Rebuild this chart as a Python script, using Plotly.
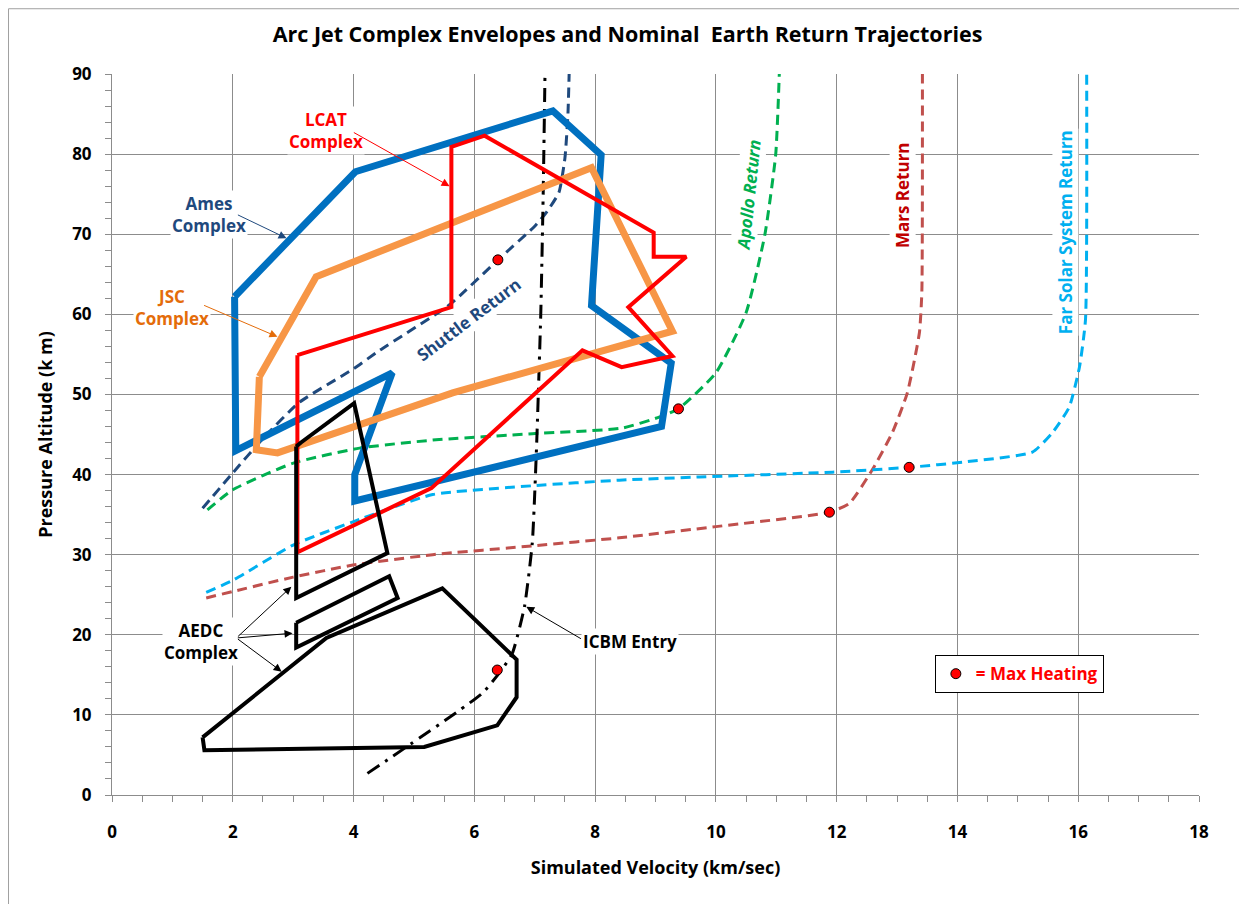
import plotly.graph_objects as go

# velocity (km/s) / pressure altitude (km)
ames_v = [2.03, 4.03, 7.30, 8.10, 7.94, 9.26, 9.10, 4.02, 4.02, 4.64, 2.05, 2.03]
ames_h = [62.2, 77.8, 85.4, 79.9, 61.1, 53.9, 46.0, 36.7, 40.0, 52.7, 43.0, 62.2]

jsc_v = [2.44, 3.38, 7.94, 9.28, 5.64, 2.74, 2.39, 2.44]
jsc_h = [52.2, 64.7, 78.3, 57.9, 50.2, 42.7, 43.1, 52.2]

lcat_v = [3.07, 5.62, 5.62, 6.17, 8.97, 8.97, 9.51, 8.55, 9.28, 8.44, 7.79, 5.29, 3.07, 3.07]
lcat_h = [54.9, 60.9, 80.9, 82.3, 70.2, 67.2, 67.2, 60.9, 54.8, 53.4, 55.5, 38.3, 30.3, 54.9]

aedc1_v = [3.05, 3.13, 4.01, 4.56, 3.05, 3.05]
aedc1_h = [43.5, 44.0, 48.9, 30.2, 24.6, 43.5]
aedc2_v = [3.05, 4.59, 4.73, 3.05, 3.05]
aedc2_h = [21.5, 27.3, 24.6, 18.4, 21.5]
aedc3_v = [1.50, 3.55, 5.47, 6.70, 6.70, 6.38, 5.17, 1.53, 1.50]
aedc3_h = [7.2, 19.6, 25.8, 16.9, 12.2, 8.7, 6.0, 5.6, 7.2]

icbm_v = [4.23, 6.13, 6.45, 6.63, 6.83, 6.96, 7.03, 7.10, 7.14, 7.17]
icbm_h = [2.7, 12.7, 15.6, 17.7, 23.5, 31.5, 43.4, 60.0, 75.0, 90.0]

shuttle_v = [1.50, 2.0, 2.5, 3.1, 4.0, 4.43, 5.59, 6.39, 7.0, 7.2, 7.4, 7.5, 7.55, 7.57]
shuttle_h = [35.8, 40.2, 44.5, 49.0, 53.2, 55.5, 61.2, 66.8, 71.0, 72.8, 75.2, 79.5, 85.0, 90.0]

apollo_v = [1.58, 2.0, 2.99, 4.1, 5.31, 6.96, 8.45, 9.07, 9.38, 10.0, 10.5, 10.81, 10.99, 11.05]
apollo_h = [35.6, 38.1, 41.4, 43.3, 44.3, 45.1, 45.8, 47.2, 48.2, 52.7, 60.2, 69.9, 79.9, 90.0]

mars_v = [1.56, 2.0, 3.0, 3.99, 5.31, 6.96, 8.40, 10.0, 11.88, 12.21, 12.59, 12.92, 13.17, 13.37, 13.41, 13.42]
mars_h = [24.6, 25.4, 27.2, 28.7, 30.0, 31.1, 32.1, 33.5, 35.3, 36.4, 40.6, 45.2, 50.2, 57.7, 62.7, 90.0]

far_v = [1.56, 2.0, 3.0, 3.99, 5.31, 6.96, 8.40, 9.73, 11.93, 13.2, 14.15, 15.24, 15.57, 15.85, 16.02, 16.12, 16.14]
far_h = [25.3, 26.8, 31.2, 34.1, 37.5, 38.6, 39.3, 39.7, 40.3, 40.9, 41.6, 42.8, 45.2, 48.4, 53.4, 59.3, 90.0]

# max heating points (shuttle, apollo, mars, far solar, icbm)
heat_v = [6.39, 9.38, 11.88, 13.2, 6.38]
heat_h = [66.8, 48.2, 35.3, 40.9, 15.6]

FONT = "Open Sans"
GRID = "#8c8c8c"

fig = go.Figure()


def poly(v, h, color, width):
    fig.add_trace(go.Scatter(x=v, y=h, mode="lines", showlegend=False, hoverinfo="skip",
                             line=dict(color=color, width=width)))


def traj(v, h, color, dash="10px,6px", width=3):
    fig.add_trace(go.Scatter(x=v, y=h, mode="lines", showlegend=False, hoverinfo="skip",
                             line=dict(color=color, width=width, dash=dash,
                                       shape="spline", smoothing=0.5)))


traj(shuttle_v, shuttle_h, "#1F497D")
traj(apollo_v, apollo_h, "#00B050")
traj(mars_v, mars_h, "#C0504D")
traj(far_v, far_h, "#00B0F0")
traj(icbm_v, icbm_h, "black", dash="14px,7px,3px,7px", width=3)

poly(ames_v, ames_h, "#0070C0", 7)
poly(jsc_v, jsc_h, "#F79646", 7)
poly(lcat_v, lcat_h, "#FF0000", 4)
poly(aedc1_v, aedc1_h, "black", 4)
poly(aedc2_v, aedc2_h, "black", 4)
poly(aedc3_v, aedc3_h, "black", 4)

fig.add_trace(go.Scatter(
    x=heat_v, y=heat_h, mode="markers", name="= Max Heating",
    marker=dict(color="#FF0000", size=10, line=dict(color="black", width=1)),
))

# text labels
labels = [
    ("LCAT<br>Complex", 3.55, 83.0, "#FF0000", 0),
    ("Ames<br>Complex", 1.61, 72.5, "#1F497D", 0),
    ("JSC<br>Complex", 1.00, 60.8, "#E46C0A", 0),
    ("AEDC<br>Complex", 1.48, 19.2, "black", 0),
    ("ICBM Entry", 8.57, 19.1, "black", 0),
    ("Shuttle Return", 5.90, 59.4, "#1F497D", -37),
    ("<i>Apollo Return</i>", 10.55, 74.9, "#00B050", -84),
    ("Mars Return", 13.10, 74.9, "#C00000", -90),
    ("Far Solar System Return", 15.79, 70.2, "#00B0F0", -90),
]
for txt, x, y, col, ang in labels:
    fig.add_annotation(x=x, y=y, text=f"<b>{txt}</b>", showarrow=False, textangle=ang,
                       font=dict(family=FONT, size=17, color=col), bgcolor="white",
                       borderpad=1)

# arrows: (tail v, tail h, head v, head h, colour)
arrows = [
    (3.98, 82.8, 5.59, 76.0, "#FF0000"),
    (2.06, 72.5, 2.89, 69.5, "#1F497D"),
    (1.50, 61.2, 2.74, 57.2, "#E46C0A"),
    (2.06, 19.6, 2.97, 26.0, "black"),
    (2.06, 19.6, 2.99, 20.2, "black"),
    (2.06, 19.6, 2.81, 15.4, "black"),
    (7.79, 19.4, 6.86, 23.5, "black"),
]
for tv, th, hv, hh, col in arrows:
    fig.add_annotation(x=hv, y=hh, ax=tv, ay=th, axref="x", ayref="y", text="",
                       showarrow=True, arrowhead=2, arrowsize=1.6, arrowwidth=1,
                       arrowcolor=col)

# outer chart border
fig.add_shape(type="rect", xref="paper", yref="paper", x0=-0.0952, x1=1.1, y0=-0.2,
              y1=1.0905, line=dict(color="#a0a0a0", width=1))

fig.update_layout(
    width=1239, height=896,
    margin=dict(l=104, r=48, t=66, b=109),
    paper_bgcolor="white", plot_bgcolor="white",
    font=dict(family=FONT, color="black"),
    title=dict(text="<b>Arc Jet Complex Envelopes and Nominal  Earth Return Trajectories</b>",
               x=0.5, xanchor="center", y=0.971, yanchor="middle",
               font=dict(family=FONT, size=21.5, color="black")),
    legend=dict(x=0.757, y=0.194, xanchor="left", yanchor="top",
                bordercolor="black", borderwidth=1, bgcolor="white",
                font=dict(family=FONT, size=17, color="#FF0000", weight="bold"),
                itemwidth=30, tracegroupgap=0, valign="middle"),
)
fig.update_xaxes(
    range=[0, 18], dtick=2, showgrid=True, gridcolor=GRID, gridwidth=1,
    showline=True, linecolor=GRID, mirror=False, zeroline=False,
    ticks="outside", ticklen=6, tickcolor=GRID, ticklabelstandoff=16,
    minor=dict(dtick=0.5, ticks="outside", ticklen=6, tickcolor=GRID, showgrid=False),
    tickfont=dict(family=FONT, size=17, weight="bold"),
    title=dict(text="<b>Simulated Velocity (km/sec)</b>", font=dict(family=FONT, size=18),
               standoff=18),
)
fig.update_yaxes(
    range=[0, 90], dtick=10, showgrid=True, gridcolor=GRID, gridwidth=1,
    showline=True, linecolor=GRID, zeroline=False,
    ticks="outside", ticklen=6, tickcolor=GRID, ticklabelstandoff=10,
    minor=dict(dtick=2, ticks="outside", ticklen=6, tickcolor=GRID, showgrid=False),
    tickfont=dict(family=FONT, size=17, weight="bold"),
    title=dict(text="<b>Pressure Altitude (k m)</b>", font=dict(family=FONT, size=18),
               standoff=14),
)

fig.write_html("out.html")
